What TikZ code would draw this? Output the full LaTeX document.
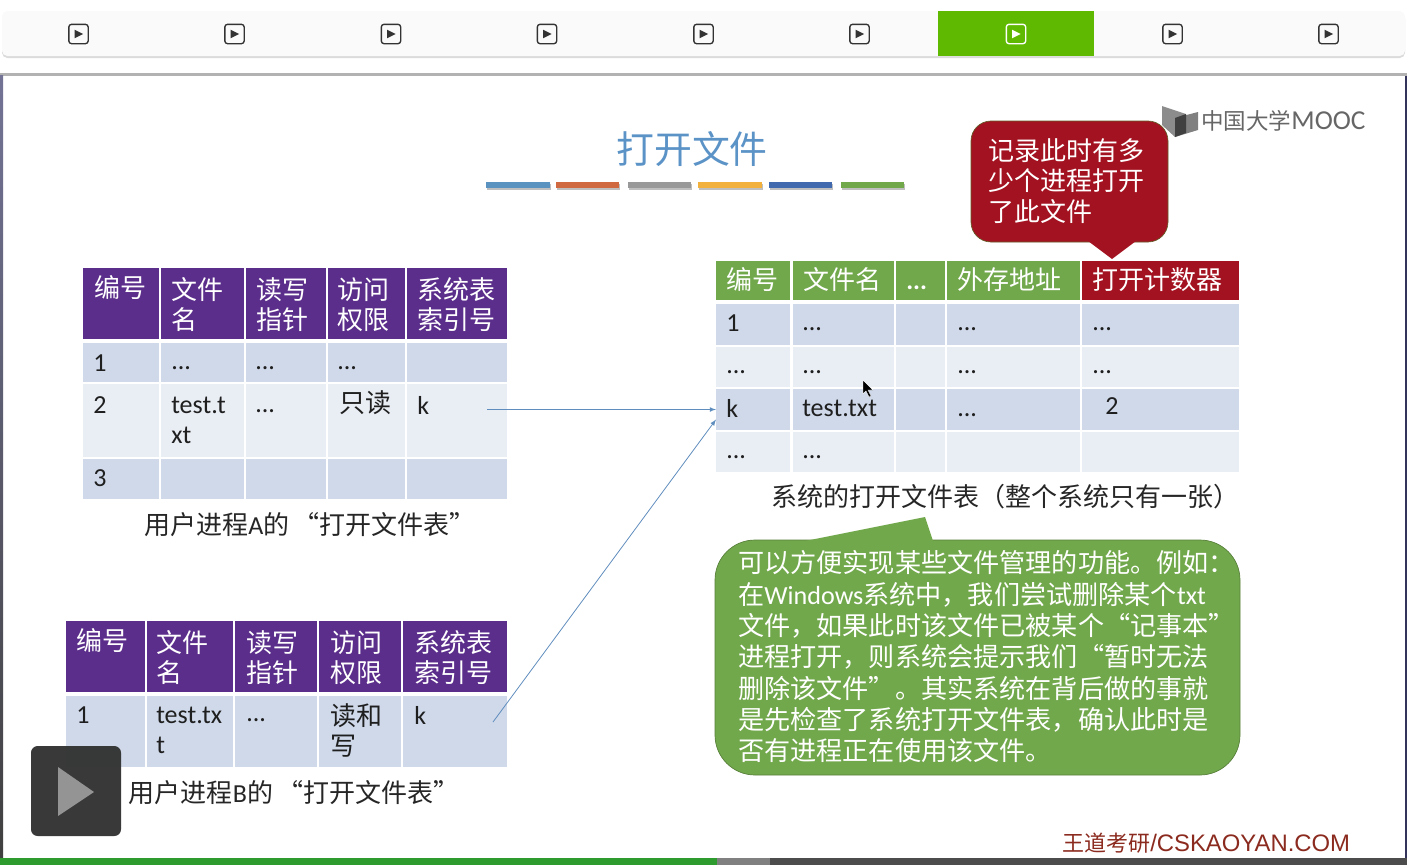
\documentclass[tikz,border=0pt]{standalone}
\usepackage{fontspec}
\setmainfont{Noto Sans CJK SC}
\newfontfamily\lat{Carlito}
\newfontfamily\arial{Liberation Sans}
\definecolor{viola}{HTML}{5B2E8B}
\definecolor{azzurro}{HTML}{CFD9EA}
\definecolor{chiaro}{HTML}{E9EDF4}
\definecolor{verde}{HTML}{72A84C}
\definecolor{rosso}{HTML}{A31220}
\definecolor{linea}{HTML}{5F8DBD}
\definecolor{attivo}{HTML}{5FB900}
\definecolor{avanzamento}{HTML}{2E9B2E}
\definecolor{titoloblu}{HTML}{5B93C7}
\definecolor{mattone}{HTML}{8B2A1E}
\tikzset{
  cella/.style={anchor=north west,inner sep=0pt,outer sep=0pt},
  testo/.style={anchor=west,inner sep=0pt,align=left,text=black!88,font=\fontsize{19.5}{22.5}\selectfont},
  testa/.style={testo,text=white},
  didascalia/.style={inner sep=0pt,text=black!85,font=\fontsize{19.5}{23}\selectfont},
  icona/.style={draw=#1,rounded corners=2pt,line width=1pt,minimum size=14.5pt,inner sep=0pt},
  freccia/.style={-latex,linea,line width=.6pt},
  fumetto/.style={cella,rounded corners=#1,line width=.5pt}
}
\begin{document}
\begin{tikzpicture}[x=.75pt,y=-.75pt]
    \useasboundingbox(0,0) rectangle (1407,865);
    %barra superiore
    \fill[black!14,rounded corners=4pt](2,13) rectangle (1405,58);
    \fill[black!2,rounded corners=4pt](2,11) rectangle (1405,56);
    \fill[attivo](938,11) rectangle (1094,56);
    \foreach \x/\c/\n in {78.5/black!80/1,234.5/black!80/2,391/black!80/3,547/black!80/4,703.5/black!80/5,859.5/black!80/6,1016/white/7,1172.5/black!80/8,1328.5/black!80/9}{
        \node[icona=\c] (ic\n) at (\x,34) {};
        \fill[\c] ([shift={(-3pt,3.2pt)}]ic\n.center)--([shift={(3.4pt,0pt)}]ic\n.center)--([shift={(-3pt,-3.2pt)}]ic\n.center)--cycle;
    }
    %cornice della diapositiva
    \fill[black!30](0,73) rectangle (1407,76);
    \shade[top color=blue!25!black!55,bottom color=black!75](0,75) rectangle (3,858);
    \fill[blue!20!black!80](1405,76) rectangle (1407,858);
    %barra inferiore
    \fill[avanzamento](0,858) rectangle (717,865);
    \fill[black!50](717,858) rectangle (770,865);
    \fill[black!70](770,858) rectangle (1407,865);
    %titolo
    \node[inner sep=0pt,text=titoloblu,font=\fontsize{28.4}{30}\selectfont] (titolo) at (692,149) {打开文件};
    \foreach \xa/\xb/\c in {486/550/5B93C0,556/619/D0693F,628/691/999999,698/762/F2B03D,769/832/4169AE,841/904/70A84A}{
        \definecolor{barra}{HTML}{\c}
        \fill[black!25](\xa+1,184) rectangle (\xb+1,190);
        \fill[barra](\xa,182) rectangle (\xb,188);
    }
    %logo
    \fill[black!45](1162,106)--(1186,114)--(1175,137)--(1162,125)--cycle;
    \fill[black!50](1198,112)--(1198,130)--(1175,137)--(1175,118)--cycle;
    \fill[black!75](1175,118)--(1186,114)--(1186,133)--(1175,137)--cycle;
    \node[anchor=west,inner sep=0pt,text=black!60,font=\fontsize{16.9}{20}\selectfont] (logo) at (1201,121) {中国大学{\lat\fontsize{20.5}{20}\selectfont MOOC}};
    %tabella del processo A
    \foreach \x/\w/\c in {83/76/1,161/83/2,246/80/3,328/77/4,407/100/5}{
        \foreach \y/\h/\col/\r in {268/71/viola/0,343/39/azzurro/1,384/73/chiaro/2,459/40/azzurro/3}{
            \node[cella,fill=\col,minimum width=\w*.75pt,minimum height=\h*.75pt] (a\r\c) at (\x,\y) {};
        }
    }
    \foreach \x/\y/\t/\n in {94/288/编号/1,171/305/{文件\\名}/2,256/305/{读写\\指针}/3,337/305/{访问\\权限}/4,417/305/{系统表\\索引号}/5}{
        \node[testa] (ta\n) at (\x,\y) {\t};
    }
    \foreach \x/\y/\t/\n in {93/363/{\lat 1}/1,171/368/{\lat ...}/2,255/368/{\lat ...}/3,337/368/{\lat ...}/4,93/405/{\lat 2}/5,171/420/{\lat test.t\\\lat xt}/6,255/411/{\lat ...}/7,339/403/只读/8,417/405/{\lat k}/9,93/478/{\lat 3}/10}{
        \node[testo] (da\n) at (\x,\y) {\t};
    }
    \node[didascalia] (capa) at (310,525) {用户进程{\lat A}的\hspace{3pt}“打开文件表”};
    %tabella del processo B
    \foreach \x/\w/\c in {66/79/1,147/86/2,235/82/3,319/82/4,403/104/5}{
        \foreach \y/\h/\col/\r in {621/71/viola/0,696/71/azzurro/1}{
            \node[cella,fill=\col,minimum width=\w*.75pt,minimum height=\h*.75pt] (b\r\c) at (\x,\y) {};
        }
    }
    \foreach \x/\y/\t/\n in {76/641/编号/1,156/658/{文件\\名}/2,246/658/{读写\\指针}/3,330/658/{访问\\权限}/4,414/658/{系统表\\索引号}/5}{
        \node[testa] (tb\n) at (\x,\y) {\t};
    }
    \foreach \x/\y/\t/\n in {76/715/{\lat 1}/1,156/730/{\lat test.tx\\\lat t}/2,246/720/{\lat ...}/3,330/730/{读和\\写}/4,414/715/{\lat k}/5}{
        \node[testo] (db\n) at (\x,\y) {\t};
    }
    \node[didascalia] (capb) at (294,793) {用户进程{\lat B}的\hspace{3pt}“打开文件表”};
    %tabella di sistema
    \foreach \x/\w/\col/\c in {716/74/verde/1,793/101/verde/2,896/49/verde/3,947/133/verde/4,1082/157/rosso/5}{
        \node[cella,fill=\col,minimum width=\w*.75pt,minimum height=39*.75pt] (s0\c) at (\x,261) {};
        \foreach \y/\h/\cc/\r in {304/41/azzurro/1,347/40/chiaro/2,389/41/azzurro/3,432/40/chiaro/4}{
            \node[cella,fill=\cc,minimum width=\w*.75pt,minimum height=\h*.75pt] (s\r\c) at (\x,\y) {};
        }
    }
    \foreach \x/\y/\t/\n in {726/280/编号/1,803/280/文件名/2,906/288/{\lat\bfseries ...}/3,957/280/外存地址/4,1092/280/打开计数器/5}{
        \node[testa] (ts\n) at (\x,\y) {\t};
    }
    \foreach \x/\y/\t/\n in {726/323/{\lat 1}/1,802/329/{\lat ...}/2,957/329/{\lat ...}/3,1092/329/{\lat ...}/4,726/372/{\lat ...}/5,802/372/{\lat ...}/6,957/372/{\lat ...}/7,1092/372/{\lat ...}/8,726/408/{\lat k}/9,802/408/{\lat test.txt}/10,957/415/{\lat ...}/11,1105/406/{\lat 2}/12,726/457/{\lat ...}/13,802/457/{\lat ...}/14}{
        \node[testo] (ds\n) at (\x,\y) {\t};
    }
    \node[didascalia] (caps) at (1005,497) {系统的打开文件表（整个系统只有一张）};
    %frecce
    \coordinate (pa) at (487,409.5);
    \coordinate (pb) at (493,722);
    \draw[freccia](pa)--(s31.west);
    \draw[freccia](pb)--([yshift=-7.5pt]s31.west);
    %cursore
    \filldraw[black,draw=white,line width=.3pt](863,380)--(863,394)--(866,391)--(869,397)--(871,396)--(868,390)--(873,390)--cycle;
    %fumetto rosso
    \node[fumetto=15pt,draw=olive!60!black,fill=rosso,minimum width=197*.75pt,minimum height=121*.75pt] (nota) at (971,121) {};
    \fill[rosso](1088,241)--(1112,259)--(1136,241)--cycle;
    \node[testa,font=\fontsize{19.5}{23}\selectfont] (tnota) at (988,181) {记录此时有多\\少个进程打开\\了此文件};
    %fumetto verde
    \node[fumetto=30pt,draw=verde!75!black,fill=verde,minimum width=525*.75pt,minimum height=235*.75pt] (spiega) at (715,540) {};
    \fill[verde](805,541)--(925,517)--(933,541)--cycle;
    \node[testa,font=\fontsize{19.6}{23.5}\selectfont] (tspiega) at (738,657) {可以方便实现某些文件管理的功能。例如：\\在{\lat Windows}系统中，我们尝试删除某个{\lat txt}\\文件，如果此时该文件已被某个“记事本”\\进程打开，则系统会提示我们“暂时无法\\删除该文件”。其实系统在背后做的事就\\是先检查了系统打开文件表，确认此时是\\否有进程正在使用该文件。};
    %scritta in basso
    \node[anchor=west,inner sep=0pt,text=mattone,font=\fontsize{16.5}{18}\selectfont] (sito) at (1062,843) {王道考研{\arial\fontsize{17.9}{18}\selectfont/CSKAOYAN.COM}};
    %pulsante video
    \node[cella,rounded corners=5pt,fill=black!80,fill opacity=.97,minimum size=90*.75pt] (video) at (31,746) {};
    \fill[black!42](58,767)--(94,792)--(58,816)--cycle;
\end{tikzpicture}
\end{document}
